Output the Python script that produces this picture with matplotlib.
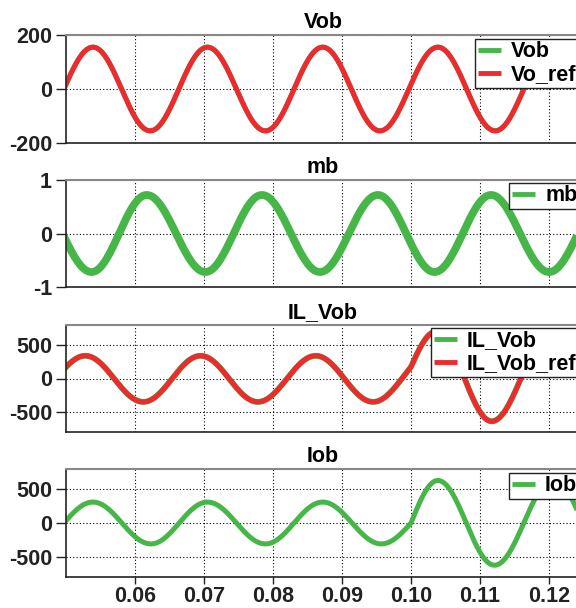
import numpy as np
import matplotlib.pyplot as plt

plt.rcParams['font.family'] = ['Liberation Sans', 'DejaVu Sans']
plt.rcParams['font.weight'] = 'bold'

# waveform knots: (time s, value) at zero crossings,
# positive/negative peaks and the step at t = 0.10 s
vob_t = [0.0497, 0.0539, 0.0622, 0.0705, 0.0789, 0.0872, 0.0955, 0.1039, 0.1122, 0.1205, 0.1289]
vob_v = [0, 155, -155, 155, -155, 155, -155, 155, -155, 155, -155]

mb_t = [0.0495, 0.0537, 0.0617, 0.0702, 0.0784, 0.0868, 0.0952, 0.1034, 0.1116, 0.1200, 0.1284]
mb_v = [0, -0.72, 0.72, -0.72, 0.72, -0.72, 0.72, -0.72, 0.72, -0.72, 0.72]

il_t = [0.0486, 0.0528, 0.0612, 0.0695, 0.0778, 0.0862, 0.0945, 0.0987, 0.1000, 0.1036, 0.1117, 0.1203, 0.1290]
il_v = [0, 340, -350, 340, -350, 340, -350, 0, 175, 700, -640, 680, -660]

iob_t = [0.0497, 0.0539, 0.0623, 0.0705, 0.0789, 0.0872, 0.0957, 0.1000, 0.1039, 0.1121, 0.1207, 0.1290]
iob_v = [0, 310, -310, 310, -310, 310, -310, 0, 630, -625, 650, -650]

x_ticks = [0.06, 0.07, 0.08, 0.09, 0.10, 0.11, 0.12]
titles = ['Vob', 'mb', 'IL_Vob', 'Iob']
y_ticks = [[-200, 0, 200], [-1, 0, 1], [-500, 0, 500], [-500, 0, 500]]
y_lims = [(-200, 200), (-1, 1), (-800, 800), (-800, 800)]

GREEN = '#46b649'
RED = '#ee2a2e'
FS = 15.5


def is_peak(kv, i):
    v = kv[i]
    if v == 0:
        return False
    nb = [kv[j] for j in (i - 1, i + 1) if 0 <= j < len(kv)]
    return all(v >= n for n in nb) or all(v <= n for n in nb)


def trace(kt, kv, n=80):
    # join the knots with sine-shaped arcs
    ts, vs = [], []
    for i in range(len(kt) - 1):
        f = np.linspace(0, 1, n)
        pa, pb = is_peak(kv, i), is_peak(kv, i + 1)
        if pa and pb:
            s = (1 - np.cos(np.pi * f)) / 2
        elif pa:
            s = 1 - np.cos(np.pi / 2 * f)
        elif pb:
            s = np.sin(np.pi / 2 * f)
        else:
            s = f
        ts.append(kt[i] + (kt[i + 1] - kt[i]) * f)
        vs.append(kv[i] + (kv[i + 1] - kv[i]) * s)
    return np.concatenate(ts), np.concatenate(vs)


fig = plt.figure(figsize=(5.76, 6.08), dpi=100)

# axes boxes in pixels (top, bottom); the right edge runs past the figure
boxes = [(35, 143), (180, 287), (325, 432), (469, 577)]
left_px, right_px = 66, 580
legend_pos = [(0.796, 0.965), (0.862, 0.975), (0.710, 0.975), (0.862, 0.965)]

axes = []
for k, (top, bot) in enumerate(boxes):
    ax = fig.add_axes([left_px / 576, 1 - bot / 608, (right_px - left_px) / 576, (bot - top) / 608])
    axes.append(ax)

ax = axes[0]
t, v = trace(vob_t, vob_v)
ax.plot(t, v, color=GREEN, lw=3.6, label='Vob', solid_capstyle='butt')
ax.plot(t, v, color=RED, lw=3.6, label='Vo_ref', solid_capstyle='butt')

ax = axes[1]
t, v = trace(mb_t, mb_v)
ax.plot(t, v, color=GREEN, lw=5.6, label='mb', solid_capstyle='butt')

ax = axes[2]
t, v = trace(il_t, il_v)
ax.plot(t, v, color=GREEN, lw=4.2, label='IL_Vob', solid_capstyle='butt')
ax.plot(t, v, color=RED, lw=3.6, label='IL_Vob_ref', solid_capstyle='butt')

ax = axes[3]
t, v = trace(iob_t, iob_v)
ax.plot(t, v, color=GREEN, lw=3.6, label='Iob', solid_capstyle='butt')

for k, ax in enumerate(axes):
    ax.set_xlim(0.05, 0.05 + (right_px - left_px) / 6900)
    ax.set_ylim(*y_lims[k])
    ax.set_xticks(x_ticks)
    ax.set_yticks(y_ticks[k])
    ax.set_yticklabels([str(y) for y in y_ticks[k]])
    if k == 3:
        ax.set_xticklabels(['%.2f' % x for x in x_ticks])
    else:
        ax.set_xticklabels([])
    ax.tick_params(direction='out', length=7, width=1, labelsize=FS, pad=3, colors='#222222')
    ax.tick_params(axis='x', length=0 if k < 3 else 5, pad=1.5)
    ax.grid(True, color='black', linestyle=(0, (1, 2)), linewidth=0.8)
    ax.set_axisbelow(True)
    for side in ('left', 'bottom', 'right'):
        ax.spines[side].set_color('#222222')
        ax.spines[side].set_linewidth(1.2)
    ax.spines['top'].set_color('#888888')
    ax.spines['top'].set_linewidth(1.5)
    ax.set_title(titles[k], fontsize=FS, fontweight='bold', pad=5)
    leg = ax.legend(loc='upper left', bbox_to_anchor=legend_pos[k], borderaxespad=0,
                    fancybox=False, framealpha=1, edgecolor='#222222',
                    prop={'size': FS, 'weight': 'bold'}, handlelength=1.1,
                    handletextpad=0.45, borderpad=0.12, labelspacing=0.1)
    leg.get_frame().set_linewidth(1.0)
    for line in leg.get_lines():
        line.set_linewidth(3.5)

fig.savefig('out.png', dpi=100)
